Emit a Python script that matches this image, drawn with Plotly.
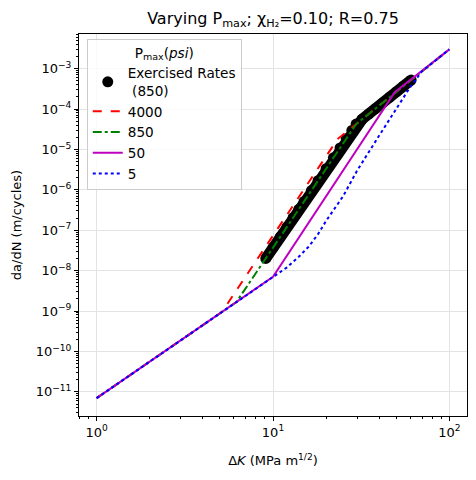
import plotly.graph_objects as go

# ---- data ----
ex_x = [9.1, 10, 11, 12, 13, 14, 15, 16.5, 18, 20, 22, 24, 26, 28, 29.6,
        32, 35, 38, 42, 46, 50, 55, 60.7]
ex_y = [2.01e-8, 3.71e-8, 6.89e-8, 1.21e-7, 2.04e-7, 3.30e-7, 5.15e-7, 9.57e-7,
        1.68e-6, 3.33e-6, 6.19e-6, 1.09e-5, 1.83e-5, 2.96e-5, 4.23e-5,
        5.56e-5, 7.61e-5, 1.01e-4, 1.44e-4, 1.98e-4, 2.65e-4, 3.70e-4, 5.22e-4]

p4000_x = [1, 5.13, 23.3, 100]
p4000_y = [7e-12, 9.45e-10, 1.83e-5, 3e-3]

p850_x = [1, 6.2, 29.6, 100]
p850_y = [7e-12, 1.668e-9, 4.23e-5, 3e-3]

p50_x = [1, 10, 49, 100]
p50_y = [7e-12, 7e-9, 2.6e-4, 3e-3]

p5_x = [1, 10, 12, 14, 16, 18, 20, 25, 30, 40, 50, 60, 70, 100]
p5_y = [7e-12, 7e-9, 1.2e-8, 2.2e-8, 4e-8, 8e-8, 1.7e-7, 7e-7, 3e-6, 2.2e-5,
        1e-4, 3.5e-4, 8.6e-4, 3e-3]

x_tickvals = [1, 10, 100]
x_ticktext = ["10<sup>0</sup>", "10<sup>1</sup>", "10<sup>2</sup>"]
y_exps = list(range(-11, -2))
y_tickvals = [10.0 ** e for e in y_exps]
y_ticktext = ["10<sup>\u2212%d</sup>" % (-e) for e in y_exps]

x_minor = [0.8, 0.9] + [k for k in range(2, 10)] + [10 * k for k in range(2, 10)]
y_minor = [k * 10.0 ** d for d in range(-12, -2) for k in range(2, 10)
           if 2.5e-12 < k * 10.0 ** d < 7.2e-3]

FONT = "DejaVu Sans"
fig = go.Figure()

# exercised rates band (line under markers)
fig.add_trace(go.Scatter(x=ex_x, y=ex_y, mode="lines", showlegend=False,
                         line=dict(color="black", width=11), hoverinfo="skip"))
fig.add_trace(go.Scatter(x=ex_x, y=ex_y, mode="markers",
                         name="Exercised Rates<br> (850)",
                         marker=dict(color="black", size=11)))
fig.add_trace(go.Scatter(x=p4000_x, y=p4000_y, mode="lines", name="4000",
                         line=dict(color="#ff0000", width=2, dash="dash")))
fig.add_trace(go.Scatter(x=p850_x, y=p850_y, mode="lines", name="850",
                         line=dict(color="#008000", width=2, dash="dashdot")))
fig.add_trace(go.Scatter(x=p50_x, y=p50_y, mode="lines", name="50",
                         line=dict(color="#bf00bf", width=2)))
fig.add_trace(go.Scatter(x=p5_x, y=p5_y, mode="lines", name="5",
                         line=dict(color="#0000ff", width=2, dash="dot")))

axis_common = dict(showline=True, linecolor="black", linewidth=1, mirror=True,
                   ticks="outside", ticklen=4, tickcolor="black",
                   showgrid=True, gridcolor="#e3e3e3", gridwidth=1,
                   zeroline=False, tickfont=dict(family=FONT, size=13, color="black"))

fig.update_xaxes(type="log", range=[-0.1, 2.1], tickmode="array",
                 tickvals=x_tickvals, ticktext=x_ticktext,
                 minor=dict(tickmode="array", tickvals=x_minor, ticks="outside",
                            ticklen=2, tickcolor="black", showgrid=False),
                 title=dict(text="\u0394<i>K</i> (MPa m<sup>1/2</sup>)",
                            font=dict(family=FONT, size=13, color="black"), standoff=17),
                 **axis_common)
fig.update_yaxes(type="log", range=[-11.598, -2.143], tickmode="array",
                 tickvals=y_tickvals, ticktext=y_ticktext,
                 minor=dict(tickmode="array", tickvals=y_minor, ticks="outside",
                            ticklen=2, tickcolor="black", showgrid=False),
                 title=dict(text="da/dN (m/cycles)",
                            font=dict(family=FONT, size=13, color="black"), standoff=11),
                 **axis_common)

fig.update_layout(
    width=476, height=480,
    margin=dict(l=79, r=9, t=34, b=64),
    paper_bgcolor="white", plot_bgcolor="white",
    font=dict(family=FONT, size=13, color="black"),
    title=dict(text="Varying P<sub>max</sub>; \u03c7<sub>H\u2082</sub>=0.10; R=0.75",
               x=0.5, xref="paper", xanchor="center", y=0.9625, yanchor="middle",
               font=dict(family=FONT, size=16, color="black")),
    legend=dict(x=0.02, y=0.987, xanchor="left", yanchor="top",
                bgcolor="rgba(255,255,255,0.8)", bordercolor="#cccccc", borderwidth=1,
                font=dict(family=FONT, size=13.6, color="black"),
                title=dict(text="P<sub>max</sub>(<i>psi</i>)", side="top center",
                           font=dict(family=FONT, size=13.6, color="black")),
                itemwidth=30),
    showlegend=True,
)

fig.write_html("out.html", config={"displayModeBar": False},
               post_script="document.body.style.margin='0';")
